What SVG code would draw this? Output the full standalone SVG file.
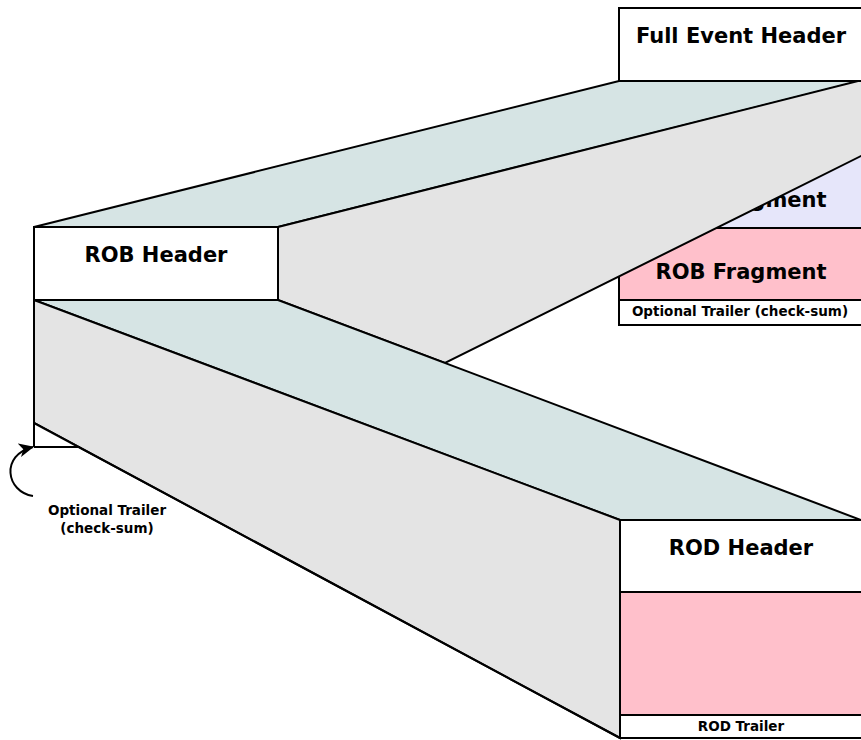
<svg xmlns="http://www.w3.org/2000/svg" width="861" height="740" viewBox="0 0 861 740">
<style>
.s{stroke:#000;stroke-width:2;stroke-linejoin:miter}
.teal{fill:#d6e4e4}
.gray{fill:#e4e4e4}
.pink{fill:#ffc0cb}
.lav{fill:#e6e6fa}
.wh{fill:#fff}
.big{font-family:"DejaVu Sans",Verdana,sans-serif;font-weight:bold;font-size:21px;text-anchor:middle;fill:#000}
.sm{font-family:"DejaVu Sans",Verdana,sans-serif;font-weight:bold;font-size:13.5px;text-anchor:middle;fill:#000}
</style>
<defs>
<marker id="ah" markerWidth="16" markerHeight="16" refX="14" refY="8" orient="auto" markerUnits="userSpaceOnUse">
<path d="M0,1 L15,8 L0,15 L4,8 Z" fill="#000"/>
</marker>
</defs>
<rect width="861" height="740" fill="#fff"/>
<g id="full-event">
<rect class="s wh" x="619" y="8" width="260" height="73"/>
<text class="big" x="741" y="43">Full Event Header</text>
<rect class="s lav" x="619" y="81" width="260" height="147"/>
<text class="big" x="741" y="207">ROB Fragment</text>
<rect class="s pink" x="619" y="228" width="260" height="72"/>
<text class="big" x="741" y="279">ROB Fragment</text>
<rect class="s wh" x="619" y="300" width="260" height="25"/>
<text class="sm" x="740" y="316">Optional Trailer (check-sum)</text>
</g>
<g id="rob-block">
<polygon class="s teal" points="34,227 619,81 861,81 278,227"/>
<polygon class="s gray" points="278,227 858,81 863,81 863,155 445,363 278,300"/>
<polygon class="s teal" points="34,300 278,300 861,520 620,520"/>
<polygon class="s gray" points="34,300 620,520 620,738 34,423"/>
<polygon class="wh" points="35,424 35,446 78,446"/>
<line class="s" x1="34" y1="423" x2="34" y2="447"/>
<line class="s" x1="34" y1="447" x2="80" y2="447"/>
<line class="s" x1="34" y1="423" x2="620" y2="738"/>
</g>
<g id="rob-header">
<rect class="s wh" x="34" y="227" width="244" height="73"/>
<text class="big" x="156" y="262">ROB Header</text>
</g>
<g id="rod">
<rect class="s wh" x="620" y="520" width="260" height="72"/>
<text class="big" x="741" y="555">ROD Header</text>
<rect class="s pink" x="620" y="592" width="260" height="123"/>
<rect class="s wh" x="620" y="715" width="260" height="23"/>
<text class="sm" x="741" y="731">ROD Trailer</text>
</g>
<g id="connectors">
<path d="M33,496 C6,492 0,455 33,447" fill="none" stroke="#000" stroke-width="2" marker-end="url(#ah)"/>
</g>
<g id="trailer-label">
<text class="sm" x="107" y="515">Optional Trailer</text>
<text class="sm" x="107" y="533">(check-sum)</text>
</g>
</svg>
